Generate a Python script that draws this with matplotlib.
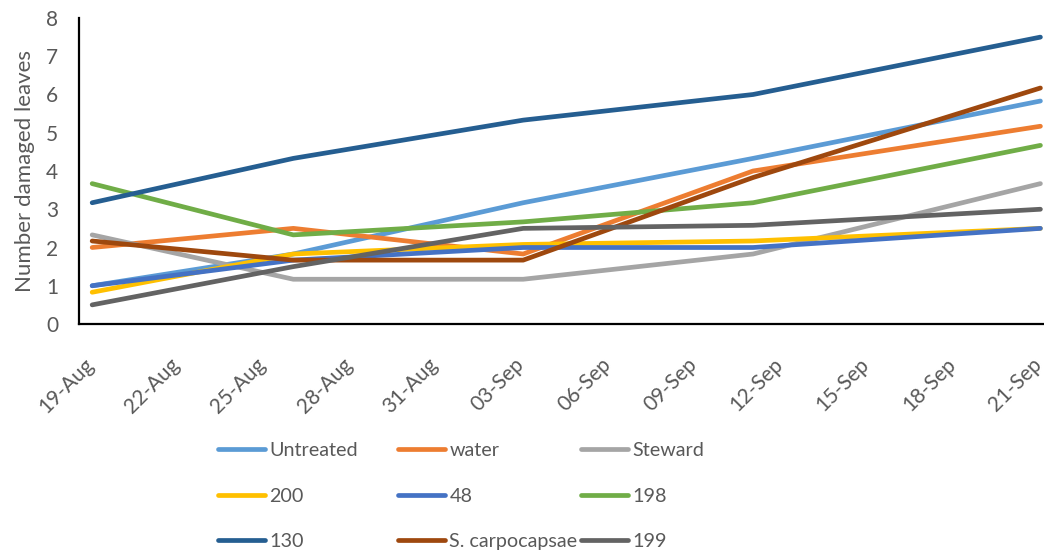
import matplotlib
matplotlib.use("Agg")
import matplotlib.pyplot as plt
import matplotlib.dates as mdates
import matplotlib.transforms as mtransforms
import pandas as pd

plt.rcParams["font.family"] = ["Lato", "DejaVu Sans"]

dates = pd.to_datetime(["2019-08-19", "2019-08-26", "2019-09-03",
                        "2019-09-11", "2019-09-21"])
tick_dates = pd.date_range("2019-08-19", "2019-09-21", freq="3D")

names = ["Untreated", "water", "Steward", "200", "48", "198", "130",
         "S. carpocapsae", "199"]
untreated = [1.0, 1.83, 3.17, 4.33, 5.83]
water = [2.0, 2.5, 1.83, 4.0, 5.17]
steward = [2.33, 1.17, 1.17, 1.83, 3.67]
t200 = [0.83, 1.83, 2.08, 2.17, 2.5]
t48 = [1.0, 1.67, 2.0, 2.0, 2.5]
t198 = [3.67, 2.33, 2.67, 3.17, 4.67]
t130 = [3.17, 4.33, 5.33, 6.0, 7.5]
s_carpo = [2.17, 1.67, 1.67, 3.83, 6.17]
t199 = [0.5, 1.5, 2.5, 2.58, 3.0]
series = [untreated, water, steward, t200, t48, t198, t130, s_carpo, t199]
colors = ["#5B9BD5", "#ED7D31", "#A5A5A5", "#FFC000", "#4472C4",
          "#70AD47", "#255E91", "#9E480E", "#636363"]

fig = plt.figure(figsize=(10.44, 5.54), dpi=100)
ax = fig.add_axes([79 / 1044, 1 - 324 / 554, 965 / 1044, 306 / 554])

handles = []
for name, vals, c in zip(names, series, colors):
    h, = ax.plot(dates, vals, color=c, lw=3.4, solid_capstyle="round",
                 solid_joinstyle="round", label=name)
    handles.append(h)

ax.set_ylim(0, 8)
ax.set_xlim(tick_dates[0] - pd.Timedelta(hours=11),
            tick_dates[-1] + pd.Timedelta(hours=3))
ax.set_xticks(tick_dates)
ax.xaxis.set_major_formatter(mdates.DateFormatter("%d-%b"))
ax.set_yticks(range(0, 9))
ax.tick_params(axis="both", length=0, colors="#595959")
ax.tick_params(axis="x", pad=27, labelsize=15)
ax.tick_params(axis="y", pad=15, labelsize=15)
shift = mtransforms.ScaledTranslation(-2 / 100, 0, fig.dpi_scale_trans)
for lab in ax.get_xticklabels():
    lab.set_rotation(45)
    lab.set_ha("right")
    lab.set_va("center")
    lab.set_rotation_mode("anchor")
    lab.set_transform(lab.get_transform() + shift)
for s in ["top", "right"]:
    ax.spines[s].set_visible(False)
for s in ["left", "bottom"]:
    ax.spines[s].set_linewidth(1.6)
    ax.spines[s].set_color("black")
ax.set_ylabel("Number damaged leaves", fontsize=16, color="#595959",
              labelpad=8)

# legend: three columns placed like the original
col_x = [218, 398, 581]
for ci in range(3):
    hs = [handles[ci + 3 * r] for r in range(3)]
    fig.legend(hs, [h.get_label() for h in hs], loc="upper left",
               bbox_to_anchor=(col_x[ci] / 1044, 1 - 442 / 554),
               frameon=False, fontsize=14.2, handlelength=2.4,
               handletextpad=0.2, labelspacing=1.45, borderpad=0,
               borderaxespad=0, labelcolor="#595959")

fig.savefig("out.png", dpi=100)
